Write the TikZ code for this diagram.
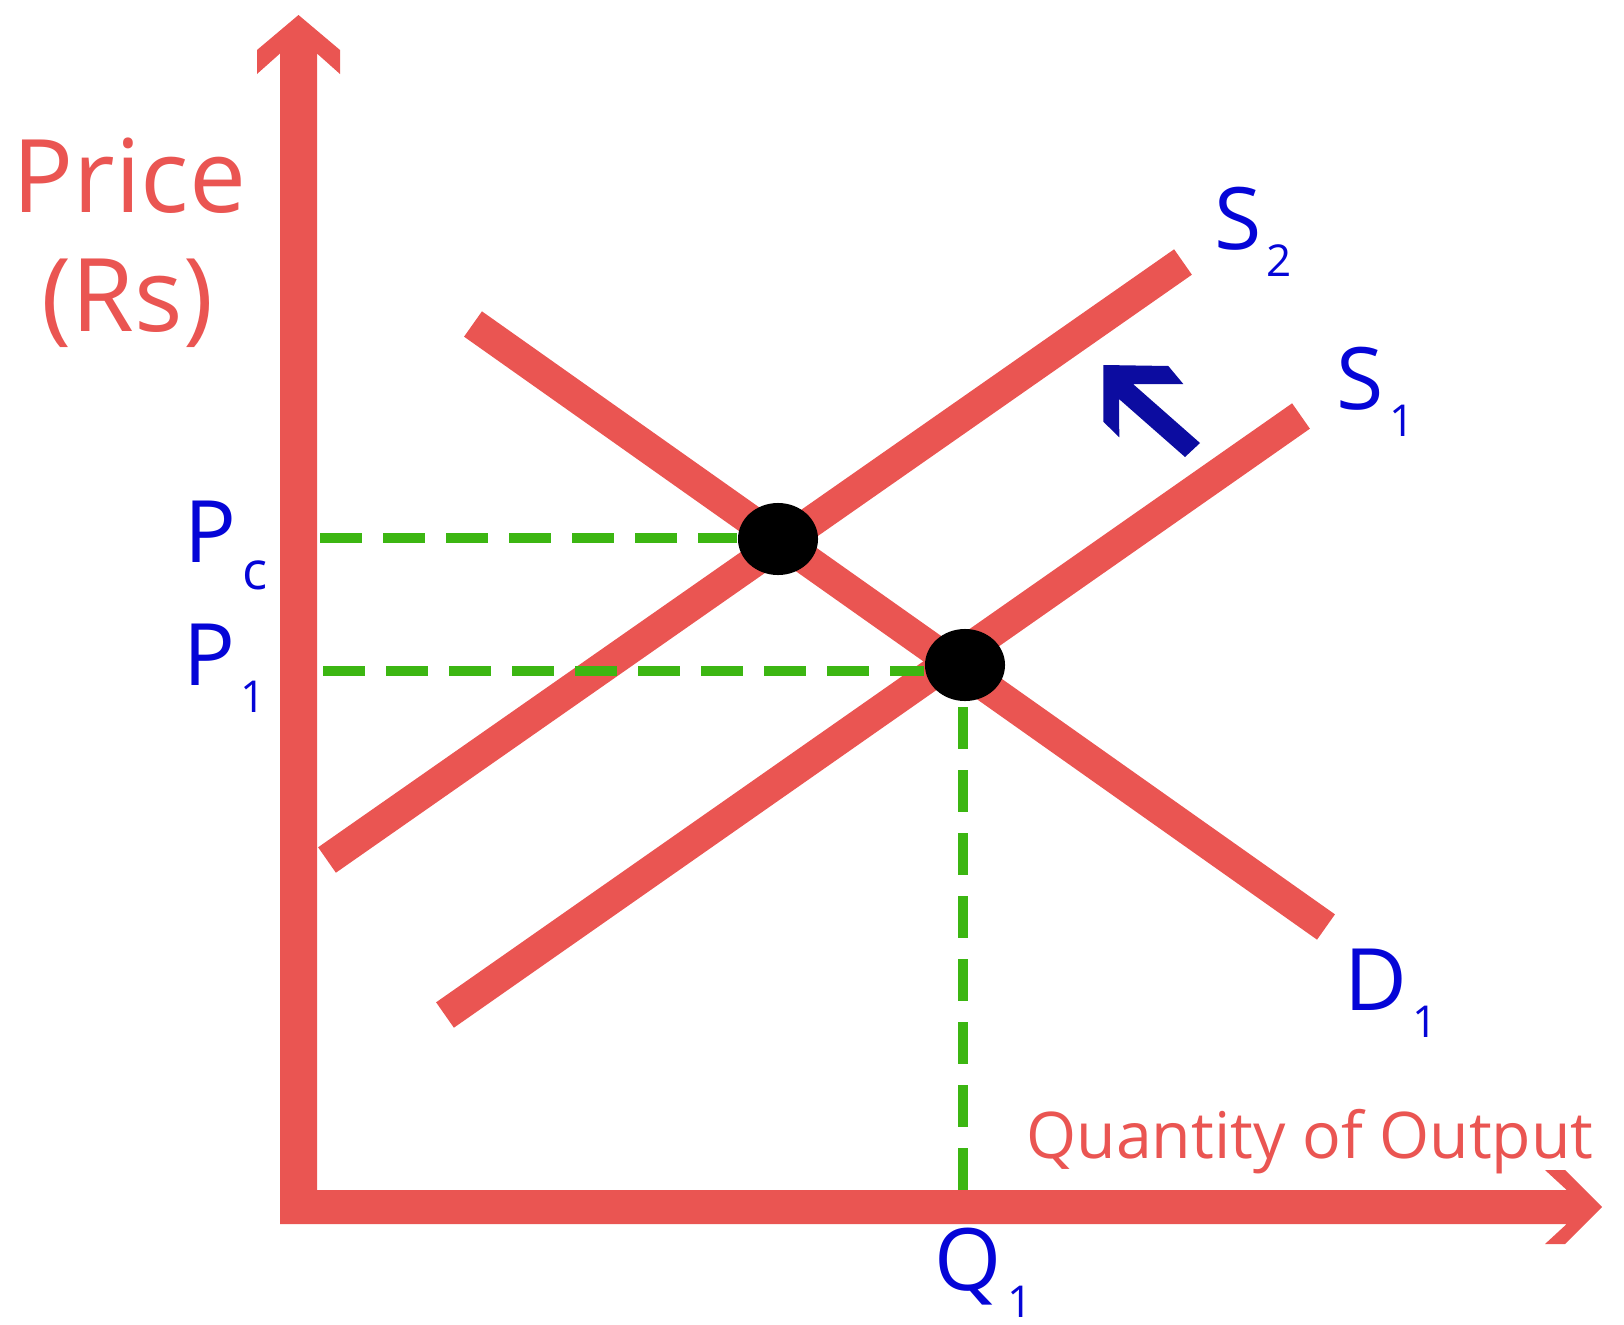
\documentclass[tikz,border=0pt]{standalone}
\usepackage{fontspec}
\setmainfont{Open Sans}
\usepackage{tikz}
\usetikzlibrary{shapes.geometric}
\definecolor{axisred}{RGB}{234,85,82}
\definecolor{guidegreen}{RGB}{60,182,18}
\definecolor{labelblue}{RGB}{5,5,215}
\definecolor{shiftblue}{RGB}{12,12,160}
\newcommand{\sublbl}[3][12.5]{#2\hspace{1.5pt}\raisebox{-7.7pt}{\fontsize{#1}{13}\selectfont #3}}
\tikzset{
  curveline/.style={draw=axisred,line width=0.31cm},
  guideline/.style={draw=guidegreen,line width=0.1cm,dash pattern=on 0.42cm off 0.21cm},
  eqdot/.style={ellipse,fill=black,minimum width=0.8cm,minimum height=0.72cm,inner sep=0pt},
  curvelabel/.style={text=labelblue,inner sep=0pt,anchor=base,font=\fontsize{24.5}{26}\selectfont},
  axislabel/.style={text=axisred,inner sep=0pt,anchor=base}
}

\begin{document}
\begin{tikzpicture}[x=0.01cm,y=-0.01cm]
  \useasboundingbox (0,0) rectangle (1624,1324);
  % axes
  \fill[axisred] (298.5,15) -- (340,50) -- (340,74) -- (317,53.5) -- (317,1190)
    -- (1566.7,1190) -- (1545,1170) -- (1565,1170) -- (1602,1207) -- (1565,1244)
    -- (1545,1244) -- (1566.7,1224) -- (280,1224) -- (280,53.5) -- (257,74)
    -- (257,50) -- cycle;
  % supply and demand
  \coordinate (stwolo) at (327,860);
  \coordinate (stwohi) at (1183,262);
  \coordinate (sonelo) at (445,1015);
  \coordinate (sonehi) at (1301,416);
  \coordinate (donehi) at (473,324);
  \coordinate (donelo) at (1326,927);
  \draw[curveline] (stwolo) -- (stwohi);
  \draw[curveline] (sonelo) -- (sonehi);
  \draw[curveline] (donehi) -- (donelo);
  % shift of supply
  \fill[shiftblue] (1103.3,365) -- (1168.3,366) -- (1183.3,384) -- (1133,384)
    -- (1200,443) -- (1185,457) -- (1119,399) -- (1119.3,437.3)
    -- (1103.3,421.7) -- cycle;
  % equilibria
  \node[eqdot] (eqc) at (778,539) {};
  \node[eqdot] (eqone) at (965,665) {};
  \coordinate (pcaxis) at (320,538);
  \coordinate (poneaxis) at (323,671);
  \coordinate (qoneaxis) at (963,1190);
  \draw[guideline] (pcaxis) -- (pcaxis -| eqc.west);
  \draw[guideline] (poneaxis) -- (poneaxis -| eqone.west);
  \draw[guideline] (qoneaxis) -- (qoneaxis |- eqone.south);
  % labels
  \node[axislabel,font=\fontsize{28.9}{30}\selectfont] (price) at (129.5,212) {Price};
  \node[axislabel,font=\fontsize{28.9}{30}\selectfont] (rs) at (127.5,331) {(Rs)};
  \node[axislabel,font=\fontsize{18.3}{20}\selectfont] (qty) at (1310,1158) {Quantity of Output};
  \node[curvelabel] (stwo) at (1253,249) {\sublbl{S}{2}};
  \node[curvelabel] (sone) at (1375.5,409) {\sublbl{S}{1}};
  \node[curvelabel] (done) at (1391,1010) {\sublbl{D}{1}};
  \node[curvelabel] (pc) at (226,562) {\sublbl[15]{P}{c}};
  \node[curvelabel] (pone) at (224.5,685) {\sublbl{P}{1}};
  \node[curvelabel] (qone) at (983.5,1290) {\sublbl{Q}{1}};
\end{tikzpicture}
\end{document}
